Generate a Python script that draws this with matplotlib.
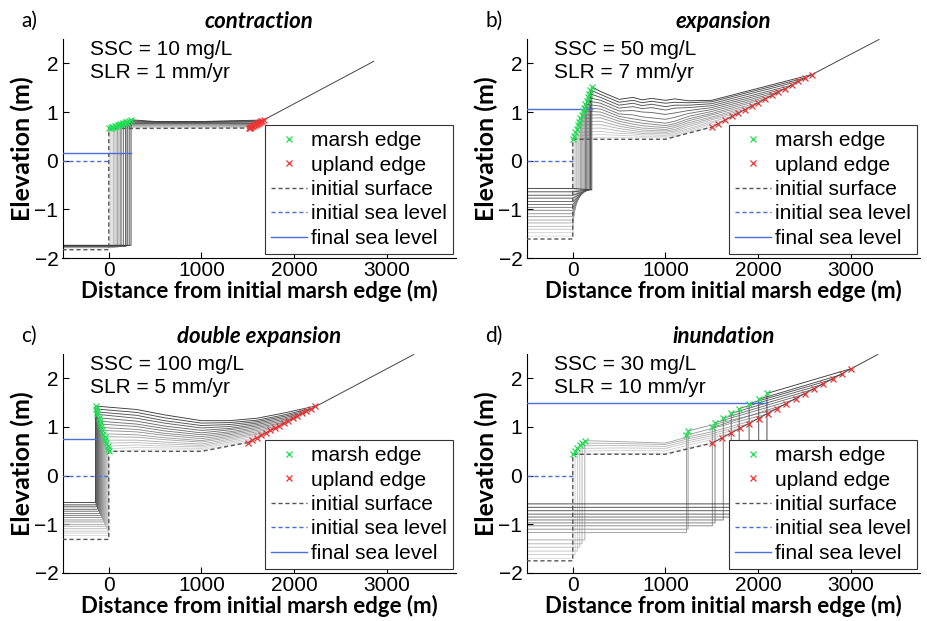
import matplotlib.pyplot as plt
from matplotlib.lines import Line2D

plt.rcParams['font.family'] = ['Liberation Sans', 'DejaVu Sans']

titles = ['contraction', 'expansion', 'double expansion', 'inundation']
panel_tags = ['a)', 'b)', 'c)', 'd)']
ssc_text = ['SSC = 10 mg/L', 'SSC = 50 mg/L', 'SSC = 100 mg/L', 'SSC = 30 mg/L']
slr_text = ['SLR = 1 mm/yr', 'SLR = 7 mm/yr', 'SLR = 5 mm/yr', 'SLR = 10 mm/yr']

# ---- a) contraction ----
a_edge_x = [5, 20, 35, 50, 65, 80, 95, 110, 125, 140, 155, 170, 185, 200, 220, 240]
a_edge_y = [0.67, 0.68, 0.69, 0.70, 0.71, 0.72, 0.73, 0.74, 0.75, 0.76, 0.77, 0.78, 0.79, 0.80, 0.82, 0.84]
a_bay_y = [-1.79, -1.79, -1.78, -1.78, -1.78, -1.77, -1.77, -1.77, -1.76, -1.76, -1.76, -1.75, -1.75, -1.75, -1.74, -1.74]
a_upl_x = [1510, 1520, 1530, 1540, 1550, 1560, 1570, 1580, 1590, 1600, 1610, 1620, 1630, 1645, 1660, 1675]
a_upl_y = [0.67, 0.68, 0.69, 0.70, 0.71, 0.72, 0.73, 0.74, 0.75, 0.76, 0.77, 0.78, 0.79, 0.805, 0.82, 0.835]
a_mid_x = [500, 1000]
a_mid_y = [
    [0.68, 0.69, 0.70, 0.71, 0.72, 0.73, 0.74, 0.75, 0.76, 0.765, 0.77, 0.78, 0.785, 0.79, 0.80, 0.805],
    [0.68, 0.69, 0.70, 0.71, 0.72, 0.73, 0.74, 0.75, 0.76, 0.765, 0.77, 0.78, 0.785, 0.79, 0.80, 0.805],
]
a_init_x = [-500, 0, 0, 1510]
a_init_y = [-1.83, -1.83, 0.66, 0.67]
a_upland_x = [1510, 2860]
a_upland_y = [0.67, 2.04]
a_final_sl_x = [-500, 240]
a_final_sl = 0.16

# ---- b) expansion ----
b_edge_x = [0, 14, 27, 41, 55, 68, 82, 96, 109, 123, 137, 150, 164, 178, 191, 205]
b_edge_y = [0.44, 0.51, 0.58, 0.66, 0.73, 0.80, 0.87, 0.94, 1.02, 1.09, 1.16, 1.23, 1.30, 1.38, 1.45, 1.52]
b_bay_y = [-1.55, -1.48, -1.41, -1.35, -1.28, -1.22, -1.15, -1.09, -1.02, -0.96, -0.90, -0.84, -0.77, -0.71, -0.64, -0.57]
b_foot_y = -0.60
b_upl_x = [1500, 1572, 1644, 1716, 1788, 1860, 1932, 2004, 2076, 2148, 2220, 2292, 2364, 2436, 2508, 2580]
b_upl_y = [0.69, 0.76, 0.83, 0.91, 0.98, 1.05, 1.12, 1.19, 1.27, 1.34, 1.41, 1.48, 1.55, 1.63, 1.70, 1.77]
b_mid_x = [300, 500, 650, 750, 850, 1000, 1100, 1250, 1500]
b_mid_y = [
    [0.48, 0.54, 0.60, 0.67, 0.74, 0.81, 0.88, 0.94, 1.00, 1.06, 1.12, 1.18, 1.24, 1.30, 1.36, 1.42],
    [0.48, 0.52, 0.56, 0.61, 0.66, 0.71, 0.76, 0.81, 0.86, 0.91, 0.96, 1.02, 1.08, 1.14, 1.20, 1.26],
    [0.47, 0.51, 0.55, 0.58, 0.62, 0.66, 0.70, 0.75, 0.80, 0.86, 0.94, 1.03, 1.11, 1.18, 1.24, 1.30],
    [0.47, 0.50, 0.53, 0.56, 0.59, 0.63, 0.67, 0.72, 0.77, 0.83, 0.90, 1.00, 1.07, 1.13, 1.19, 1.25],
    [0.47, 0.50, 0.53, 0.56, 0.59, 0.62, 0.66, 0.70, 0.75, 0.80, 0.88, 0.99, 1.09, 1.16, 1.22, 1.28],
    [0.47, 0.50, 0.52, 0.55, 0.58, 0.61, 0.64, 0.68, 0.72, 0.77, 0.85, 0.95, 1.04, 1.11, 1.18, 1.24],
    [0.50, 0.52, 0.55, 0.58, 0.61, 0.64, 0.68, 0.72, 0.76, 0.81, 0.89, 0.98, 1.08, 1.14, 1.20, 1.27],
    [0.59, 0.60, 0.63, 0.66, 0.70, 0.74, 0.78, 0.82, 0.86, 0.91, 0.97, 1.03, 1.09, 1.14, 1.19, 1.23],
    [None, 0.74, 0.77, 0.80, 0.84, 0.87, 0.90, 0.94, 0.97, 1.01, 1.05, 1.09, 1.13, 1.17, 1.21, 1.24],
]
b_init_x = [-500, 0, 0, 1000, 1500]
b_init_y = [-1.61, -1.61, 0.44, 0.44, 0.69]
b_upland_x = [1500, 3307]
b_upland_y = [0.69, 2.49]
b_final_sl_x = [-500, 205]
b_final_sl = 1.055

# ---- c) double expansion ----
c_edge_x = [0, -5, -13, -25, -36, -46, -58, -68, -79, -90, -100, -111, -122, -130, -137, -143]
c_edge_y = [0.50, 0.55, 0.61, 0.67, 0.73, 0.80, 0.86, 0.93, 0.99, 1.06, 1.12, 1.19, 1.26, 1.31, 1.37, 1.43]
c_bay_y = [-1.23, -1.18, -1.14, -1.09, -1.04, -1.00, -0.95, -0.91, -0.86, -0.82, -0.78, -0.73, -0.69, -0.64, -0.60, -0.55]
c_upl_x = [1500, 1549, 1597, 1646, 1695, 1744, 1792, 1841, 1890, 1939, 1987, 2036, 2085, 2134, 2182, 2231]
c_upl_y = [0.68, 0.73, 0.78, 0.83, 0.88, 0.93, 0.98, 1.03, 1.08, 1.13, 1.18, 1.23, 1.28, 1.33, 1.38, 1.43]
c_mid_x = [300, 600, 1000, 1300, 1600, 1900]
c_mid_y = [
    [0.53, 0.58, 0.63, 0.68, 0.73, 0.79, 0.84, 0.90, 0.95, 1.01, 1.06, 1.12, 1.18, 1.24, 1.30, 1.36],
    [0.53, 0.57, 0.61, 0.65, 0.69, 0.74, 0.78, 0.83, 0.87, 0.92, 0.97, 1.02, 1.08, 1.13, 1.19, 1.25],
    [0.53, 0.56, 0.59, 0.62, 0.65, 0.69, 0.72, 0.76, 0.80, 0.84, 0.88, 0.93, 0.98, 1.03, 1.08, 1.13],
    [0.63, 0.66, 0.69, 0.72, 0.75, 0.78, 0.81, 0.84, 0.87, 0.90, 0.94, 0.97, 1.01, 1.05, 1.09, 1.13],
    [None, None, None, 0.82, 0.85, 0.87, 0.90, 0.93, 0.96, 0.99, 1.02, 1.05, 1.08, 1.11, 1.14, 1.18],
    [None, None, None, None, None, None, None, None, None, 1.10, 1.13, 1.16, 1.19, 1.22, 1.25, 1.29],
]
c_init_x = [-500, 0, 0, 1000, 1500]
c_init_y = [-1.31, -1.31, 0.50, 0.50, 0.68]
c_upland_x = [1500, 3294]
c_upland_y = [0.68, 2.49]
c_final_sl_x = [-500, -143]
c_final_sl = 0.75

# ---- d) inundation ----
d_edge_x = [0, 25, 50, 75, 100, 130, 1228, 1245, 1507, 1536, 1625, 1711, 1797, 1904, 2008, 2097]
d_edge_y = [0.44, 0.50, 0.56, 0.62, 0.67, 0.72, 0.83, 0.92, 0.99, 1.09, 1.18, 1.28, 1.38, 1.48, 1.57, 1.69]
d_bay_y = [-1.70, -1.62, -1.55, -1.47, -1.40, -1.32, -1.17, -1.10, -1.03, -0.97, -0.91, -0.85, -0.79, -0.72, -0.65, -0.58]
d_upl_x = [1507, 1607, 1707, 1807, 1907, 2007, 2107, 2207, 2307, 2407, 2507, 2607, 2707, 2807, 2907, 3008]
d_upl_y = [0.67, 0.77, 0.87, 0.97, 1.07, 1.17, 1.27, 1.37, 1.47, 1.57, 1.68, 1.78, 1.88, 1.98, 2.08, 2.20]
d_mid_x = [500, 1000, 1250, 1500]
d_mid_y = [
    [0.46, 0.52, 0.57, 0.62, 0.66, 0.70, None, None, None, None, None, None, None, None, None, None],
    [0.46, 0.51, 0.56, 0.60, 0.64, 0.67, None, None, None, None, None, None, None, None, None, None],
    [0.58, 0.63, 0.68, 0.72, 0.76, 0.80, None, None, None, None, None, None, None, None, None, None],
    [None, 0.74, 0.78, 0.82, 0.86, 0.90, 0.97, 1.04, None, None, None, None, None, None, None, None],
]
d_init_x = [-500, 0, 0, 1000, 1507]
d_init_y = [-1.75, -1.75, 0.44, 0.44, 0.67]
d_upland_x = [1507, 3294]
d_upland_y = [0.67, 2.49]
d_final_sl_x = [-500, 2097]
d_final_sl = 1.50

panels = [
    dict(edge_x=a_edge_x, edge_y=a_edge_y, bay_y=a_bay_y, foot_y=None, upl_x=a_upl_x, upl_y=a_upl_y,
         mid_x=a_mid_x, mid_y=a_mid_y, init_x=a_init_x, init_y=a_init_y, upland_x=a_upland_x,
         upland_y=a_upland_y, final_x=a_final_sl_x, final_y=a_final_sl),
    dict(edge_x=b_edge_x, edge_y=b_edge_y, bay_y=b_bay_y, foot_y=b_foot_y, upl_x=b_upl_x, upl_y=b_upl_y,
         mid_x=b_mid_x, mid_y=b_mid_y, init_x=b_init_x, init_y=b_init_y, upland_x=b_upland_x,
         upland_y=b_upland_y, final_x=b_final_sl_x, final_y=b_final_sl),
    dict(edge_x=c_edge_x, edge_y=c_edge_y, bay_y=c_bay_y, foot_y=None, upl_x=c_upl_x, upl_y=c_upl_y,
         mid_x=c_mid_x, mid_y=c_mid_y, init_x=c_init_x, init_y=c_init_y, upland_x=c_upland_x,
         upland_y=c_upland_y, final_x=c_final_sl_x, final_y=c_final_sl),
    dict(edge_x=d_edge_x, edge_y=d_edge_y, bay_y=d_bay_y, foot_y=None, upl_x=d_upl_x, upl_y=d_upl_y,
         mid_x=d_mid_x, mid_y=d_mid_y, init_x=d_init_x, init_y=d_init_y, upland_x=d_upland_x,
         upland_y=d_upland_y, final_x=d_final_sl_x, final_y=d_final_sl),
]

green = '#22dd55'
red = '#ee3333'
blue = '#4a6ee0'

fig = plt.figure(figsize=(9.27, 6.21), dpi=100)
positions = [
    [62.5 / 927, 363 / 621, 393.5 / 927, 219 / 621],
    [526.5 / 927, 363 / 621, 393.5 / 927, 219 / 621],
    [62.5 / 927, 48 / 621, 393.5 / 927, 219 / 621],
    [526.5 / 927, 48 / 621, 393.5 / 927, 219 / 621],
]

for i, p in enumerate(panels):
    ax = fig.add_axes(positions[i])
    n = len(p['edge_x'])
    for k in range(n):
        g = 0.86 - 0.62 * k / (n - 1)
        xs = [-500]
        ys = [p['bay_y'][k]]
        if p['foot_y'] is not None:
            xs += [0, p['edge_x'][k]]
            ys += [p['bay_y'][k], p['foot_y']]
        else:
            xs.append(p['edge_x'][k])
            ys.append(p['bay_y'][k])
        xs.append(p['edge_x'][k])
        ys.append(p['edge_y'][k])
        for mx, col in zip(p['mid_x'], p['mid_y']):
            if col[k] is not None:
                xs.append(mx)
                ys.append(col[k])
        xs.append(p['upl_x'][k])
        ys.append(p['upl_y'][k])
        ax.plot(xs, ys, color=str(g), lw=0.65, zorder=2)

    ax.plot(p['upland_x'], p['upland_y'], color='#444444', lw=0.7, zorder=2)
    ax.plot(p['init_x'], p['init_y'], color='#555555', lw=1.0, ls=(0, (3, 2)), zorder=3)
    ax.plot([-500, 0], [0, 0], color=blue, lw=1.0, ls=(0, (3, 2)), zorder=3)
    ax.plot(p['final_x'], [p['final_y'], p['final_y']], color=blue, lw=1.0, zorder=3)
    ax.plot(p['edge_x'], p['edge_y'], 'x', color=green, ms=5, mew=0.9, zorder=4)
    ax.plot(p['upl_x'], p['upl_y'], 'x', color=red, ms=5, mew=0.9, zorder=4)

    ax.set_xlim(-500, 3750)
    ax.set_ylim(-2, 2.5)
    ax.set_xticks([0, 1000, 2000, 3000])
    ax.set_yticks([-2, -1, 0, 1, 2])
    ax.spines['top'].set_visible(False)
    ax.spines['right'].set_visible(False)
    ax.tick_params(direction='in', length=4, labelsize=15)
    ax.tick_params(axis='x', pad=2)
    ax.tick_params(axis='y', pad=3)
    ax.set_xlabel('Distance from initial marsh edge (m)', family='Lato', weight='bold',
                  fontsize=16, labelpad=0)
    ax.set_ylabel('Elevation (m)', family='Lato', weight='bold', fontsize=18, labelpad=0)
    ax.set_title(titles[i], family='Lato', weight='bold', style='italic', fontsize=16, pad=8)
    ax.text(0.07, 0.95, ssc_text[i], transform=ax.transAxes, fontsize=15, va='center')
    ax.text(0.07, 0.845, slr_text[i], transform=ax.transAxes, fontsize=15, va='center')
    ax.text(-0.105, 1.085, panel_tags[i], transform=ax.transAxes, fontsize=15, family='Lato',
            va='center')

    handles = [
        Line2D([], [], ls='none', marker='x', color=green, ms=5, mew=0.9),
        Line2D([], [], ls='none', marker='x', color=red, ms=5, mew=0.9),
        Line2D([], [], color='#555555', lw=1.0, ls=(0, (3, 2))),
        Line2D([], [], color=blue, lw=1.0, ls=(0, (3, 2))),
        Line2D([], [], color=blue, lw=1.0),
    ]
    labels = ['marsh edge', 'upland edge', 'initial surface', 'initial sea level', 'final sea level']
    leg = ax.legend(handles, labels, loc='lower right', bbox_to_anchor=(0.992, 0.018),
                    borderaxespad=0, fontsize=15, handlelength=1.7, handletextpad=0.2,
                    labelspacing=0.26, borderpad=0.3, fancybox=False, framealpha=1)
    leg.get_frame().set_edgecolor('#333333')
    leg.get_frame().set_linewidth(0.8)
    leg.set_zorder(10)

fig.savefig('out.png', dpi=100)
